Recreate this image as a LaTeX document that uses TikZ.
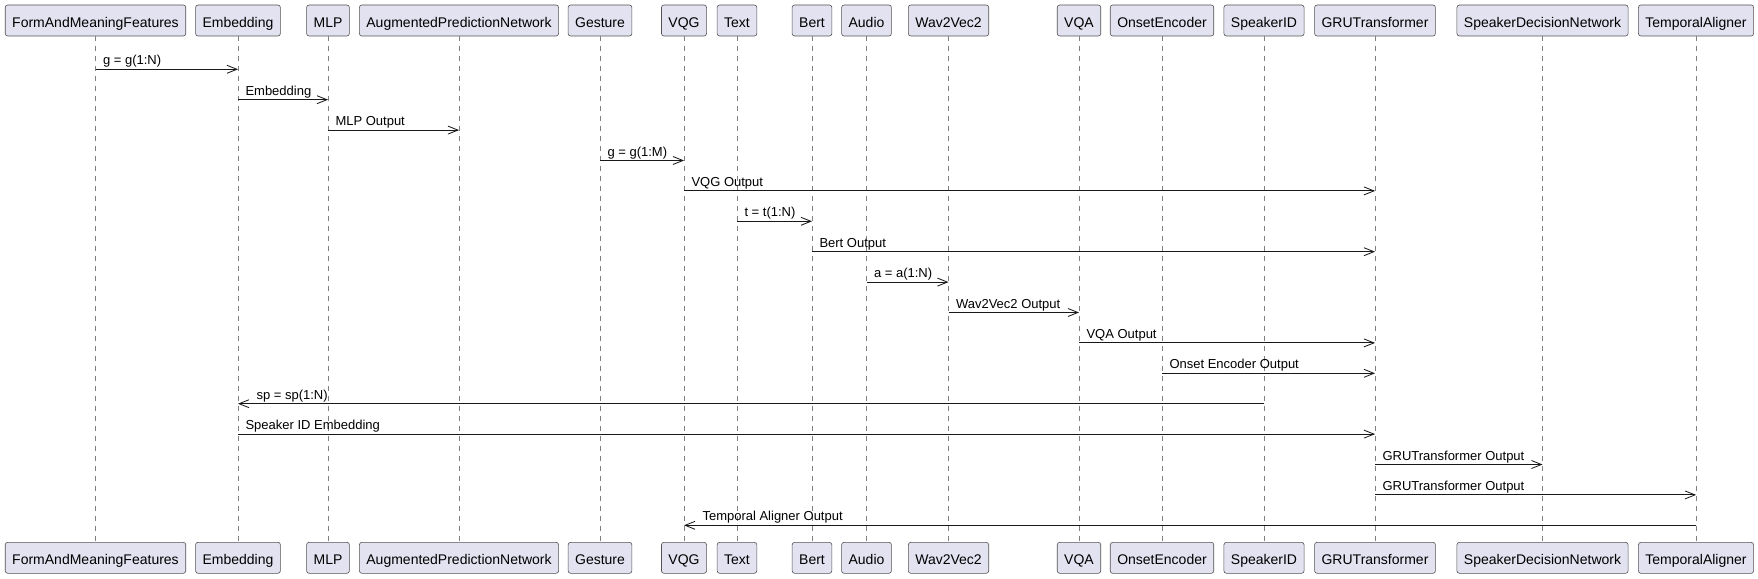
\documentclass[tikz,border=0pt]{standalone}
\usepackage{fontspec}
\setmainfont{Liberation Sans}
\usetikzlibrary{arrows.meta}
\definecolor{partfill}{HTML}{E2E2F0}
\definecolor{ink}{HTML}{181818}
\begin{document}
\begin{tikzpicture}[x=1pt,y=-1pt,
  part/.style={draw=ink!75, fill=partfill, line width=0.6pt, rounded corners=2.5pt,
    inner xsep=7pt, inner ysep=0pt, minimum height=31pt, text height=14pt, text depth=0pt,
    font=\fontsize{14}{16}\selectfont},
  lifeline/.style={draw=ink!55, line width=0.6pt, dash pattern=on 5pt off 5pt},
  msg/.style={draw=ink, line width=1pt, -{Straight Barb[length=10pt,width=8pt,line width=0.8pt]}},
  lbl/.style={font=\fontsize{13}{15}\selectfont, inner sep=0pt, anchor=base west}]
\useasboundingbox (0,0) rectangle (1758,578);
\foreach \n/\x/\t in {famf/95.5/FormAndMeaningFeatures, emb/238/Embedding, mlp/328/MLP,
  apn/459/AugmentedPredictionNetwork, ges/600/Gesture, vqg/684/VQG, txt/737/Text,
  bert/812/Bert, aud/866.5/Audio, w2v/948.5/Wav2Vec2, vqa/1079/VQA, ons/1162/OnsetEncoder,
  spk/1264/SpeakerID, gru/1375/GRUTransformer, sdn/1542.5/SpeakerDecisionNetwork,
  tal/1696/TemporalAligner}{
  \node[part] (\n-t) at (\x,20.5) {\t};
  \node[part] (\n-b) at (\x,557.8) {\t};
  \draw[lifeline] (\n-t.south) -- (\n-b.north);
}
\foreach \i in {1,...,16}{
  \coordinate (r\i) at (0,{69.3+(\i-1)*30.4});
}
% left-to-right messages
\foreach \a/\b/\r/\t in {famf/emb/1/{g = g(1:N)}, emb/mlp/2/Embedding, mlp/apn/3/MLP Output,
  ges/vqg/4/{g = g(1:M)}, vqg/gru/5/VQG Output, txt/bert/6/{t = t(1:N)}, bert/gru/7/Bert Output,
  aud/w2v/8/{a = a(1:N)}, w2v/vqa/9/Wav2Vec2 Output, vqa/gru/10/VQA Output,
  ons/gru/11/Onset Encoder Output, emb/gru/13/Speaker ID Embedding,
  gru/sdn/14/GRUTransformer Output, gru/tal/15/GRUTransformer Output}{
  \draw[msg] (\a-t |- r\r) -- (\b-t |- r\r)
    node[lbl, at start, xshift=7pt, yshift=4.5pt] {\t};
}
% right-to-left messages
\foreach \a/\b/\r/\t in {spk/emb/12/{sp = sp(1:N)}, tal/vqg/16/Temporal Aligner Output}{
  \draw[msg] (\a-t |- r\r) -- (\b-t |- r\r)
    node[lbl, at end, xshift=18pt, yshift=4.5pt] {\t};
}
\end{tikzpicture}
\end{document}
